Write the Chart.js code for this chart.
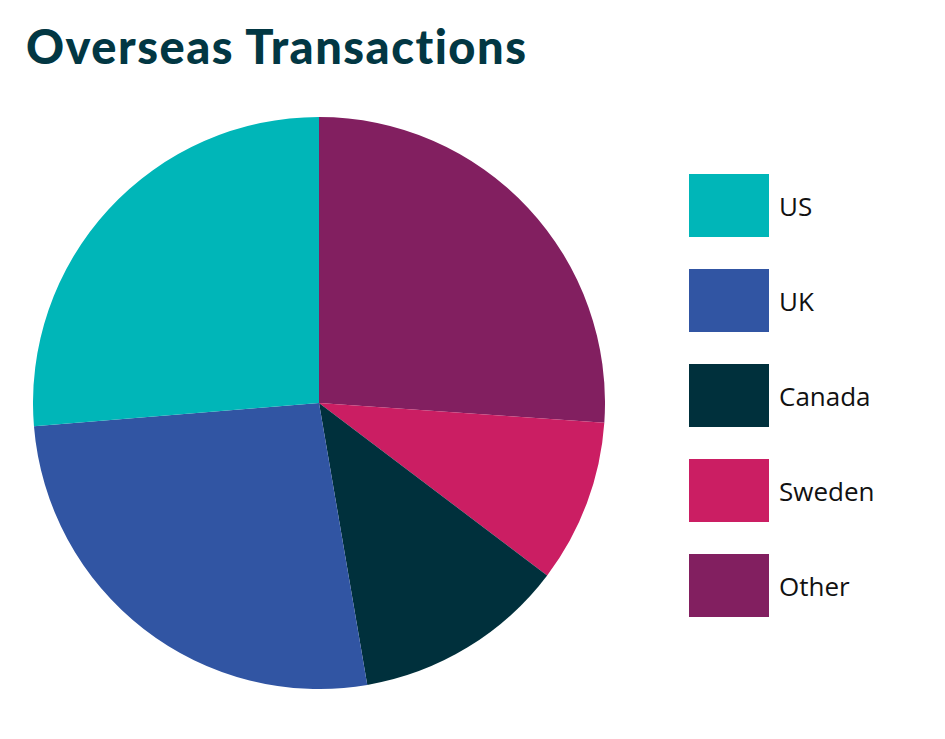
<!DOCTYPE html>
<html>
<head>
<meta charset="utf-8">
<title>Overseas Transactions</title>
<script src="https://cdn.jsdelivr.net/npm/chart.js@4.4.0/dist/chart.umd.min.js"></script>
<style>
  html, body { margin: 0; padding: 0; background: #fff; }
  body { width: 945px; height: 739px; position: relative; overflow: hidden; }
  h1 {
    position: absolute; left: 26px; top: 18px; margin: 0;
    font-family: Lato, sans-serif; font-weight: 900; font-size: 47px;
    line-height: 56px; color: #023743; letter-spacing: 1.5px;
  }
  .pie-wrap { position: absolute; left: 33px; top: 117px; width: 572px; height: 572px; }
  #legend { position: absolute; left: 689px; top: 174px; margin: 0; padding: 0; list-style: none; }
  #legend li { display: flex; align-items: center; height: 63px; margin-bottom: 32px; }
  #legend .box { width: 80px; height: 63px; }
  #legend .label {
    margin-left: 10px; font-family: "Open Sans", sans-serif; font-size: 26px; color: #111;
  }
</style>
</head>
<body>
<h1>Overseas Transactions</h1>
<div class="pie-wrap"><canvas id="pieChart"></canvas></div>
<ul id="legend"></ul>

<script>
const categories = ["US", "UK", "Canada", "Sweden", "Other"];
const shares = [26.3, 26.4, 12.0, 9.2, 26.1];
const colors = ["#00B6B8", "#3155A3", "#00303C", "#CB1E63", "#821F60"];

// the reference goes counter-clockwise from 12 o'clock, so feed the slices reversed
const order = categories.map((c, i) => i).reverse();

const ctx = document.getElementById("pieChart").getContext("2d");
const pieChart = new Chart(ctx, {
  type: "pie",
  data: {
    labels: order.map(i => categories[i]),
    datasets: [{
      data: order.map(i => shares[i]),
      backgroundColor: order.map(i => colors[i]),
      borderWidth: 0
    }]
  },
  options: {
    responsive: true,
    maintainAspectRatio: false,
    animation: false,
    layout: { padding: 0 },
    plugins: {
      legend: { display: false },
      tooltip: { enabled: false }
    }
  }
});

// html legend, in the original category order
const legendList = document.getElementById("legend");
const ds = pieChart.data.datasets[0];
pieChart.data.labels
  .map((label, i) => ({ label, color: ds.backgroundColor[i] }))
  .reverse()
  .forEach(item => {
    const li = document.createElement("li");
    li.innerHTML = `<span class="box" style="background:${item.color}"></span><span class="label">${item.label}</span>`;
    legendList.appendChild(li);
  });
</script>
</body>
</html>
